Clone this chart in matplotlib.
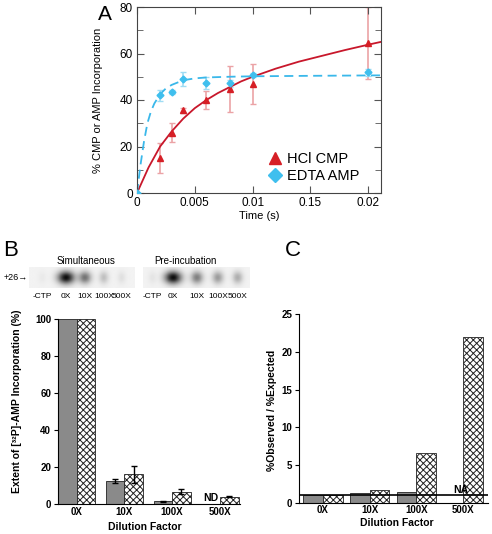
import numpy as np
import matplotlib
matplotlib.use("Agg")
import matplotlib.pyplot as plt
from matplotlib.lines import Line2D

plt.rcParams["font.family"] = ["Liberation Sans", "DejaVu Sans"]
plt.rcParams["hatch.linewidth"] = 0.7

W, H = 492, 534

# ---- panel A data ----
t_hcl = [0, 0.002, 0.003, 0.004, 0.006, 0.008, 0.01, 0.02]
hcl_cmp = [0, 15, 26, 35.5, 40, 44.7, 46.9, 64.5]
hcl_err = [0, 6.5, 4, 1, 4, 10, 8.6, 15.5]

t_edta = [0, 0.002, 0.003, 0.004, 0.006, 0.008, 0.01, 0.02]
edta_amp = [0, 42, 43.5, 49, 47.3, 47.3, 50.7, 52]
edta_err = [0, 2.5, 1, 3, 2.5, 1.5, 1, 1.5]

# fitted curves
fit_t_red = [0, 0.001, 0.002, 0.003, 0.004, 0.005, 0.006, 0.007, 0.008, 0.009,
             0.01, 0.012, 0.014, 0.016, 0.018, 0.02, 0.0211]
fit_red = [0, 11, 20, 26.5, 32, 36.5, 40, 43, 45.5, 48, 50, 53.5, 56.5, 59,
           61.5, 63.8, 65]
fit_t_blue = [0, 0.0003, 0.0006, 0.0009, 0.0012, 0.0015, 0.002, 0.0025, 0.003,
              0.004, 0.005, 0.006, 0.008, 0.01, 0.015, 0.0211]
fit_blue = [0, 12, 22, 30, 35, 38.5, 42.5, 45, 46.5, 48.5, 49.3, 49.7, 50,
            50.2, 50.4, 50.6]

x_ticks_a = [0, 0.005, 0.01, 0.015, 0.02]
x_tick_labels_a = ["0", "0.005", "0.01", "0.15", "0.02"]

# ---- panel B / C data ----
dilution = ["0X", "10X", "100X", "500X"]
b_simult = [100, 12.4, 1.5, 0]
b_simult_err = [0, 1.3, 0.3, 0]
b_preinc = [100, 16.0, 6.7, 4.0]
b_preinc_err = [0, 4.4, 1.3, 0.4]

c_simult = [1.0, 1.33, 1.46, 0]
c_preinc = [1.0, 1.68, 6.67, 21.9]

gel_lanes = ["-CTP", "0X", "10X", "100X", "500X"]
gel_simult = [0.04, 1.0, 0.55, 0.22, 0.08]
gel_preinc = [0.06, 1.0, 0.5, 0.38, 0.3]


def frac(x, y):
    return x / W, 1 - y / H


def axes_px(left, top, right, bottom):
    return [left / W, 1 - bottom / H, (right - left) / W, (bottom - top) / H]


fig = plt.figure(figsize=(W / 100, H / 100), dpi=100)

# ---------------- panel A ----------------
red = "#d61f26"
blue = "#3fbfee"
ax = fig.add_axes(axes_px(137, 7, 381, 193))
ax.plot(fit_t_red, fit_red, color="#c8172b", lw=1.3, zorder=2)
ax.plot(fit_t_blue, fit_blue, color="#3ab8ea", lw=1.3, dashes=(5, 3), zorder=2)
ax.errorbar(t_hcl, hcl_cmp, yerr=hcl_err, fmt="none", ecolor="#eba3a6",
            elinewidth=1.2, capsize=2.5, zorder=1)
ax.errorbar(t_edta, edta_amp, yerr=edta_err, fmt="none", ecolor="#9fdcf4",
            elinewidth=1.2, capsize=2.5, zorder=1)
ax.plot(t_hcl, hcl_cmp, "^", color=red, ms=4.5, mec=red, zorder=3)
ax.plot(t_edta, edta_amp, "D", color=blue, ms=3.5, mec=blue, zorder=3)
ax.set_xlim(0, 0.0211)
ax.set_ylim(0, 80)
ax.set_xticks(x_ticks_a)
ax.set_xticklabels(x_tick_labels_a)
ax.set_yticks([0, 20, 40, 60, 80])
ax.set_yticks([10, 30, 50, 70], minor=True)
ax.tick_params(which="both", direction="in", top=True, right=True,
               labelsize=8.5, color="#555555", pad=3)
ax.tick_params(which="major", length=5)
ax.tick_params(which="minor", length=4)
for sp in ax.spines.values():
    sp.set_linewidth(0.8)
    sp.set_color("#444444")
ax.set_ylabel("% CMP or AMP Incorporation", fontsize=8)
ax.yaxis.set_label_coords(-0.139, 0.5)
ax.set_xlabel("Time (s)", fontsize=8, labelpad=1)
handles = [Line2D([], [], ls="none", marker="^", color=red, ms=9),
           Line2D([], [], ls="none", marker="D", color=blue, ms=7)]
ax.legend(handles, ["HCl CMP", "EDTA AMP"], loc="lower right",
          bbox_to_anchor=(0.935, 0.02), frameon=False, fontsize=10.5,
          handlelength=0.8, handletextpad=0.4, labelspacing=0.25,
          borderaxespad=0)
fig.text(*frac(105, 15), "A", fontsize=15, ha="center", va="center")

# ---------------- gel strips ----------------
def gel_image(intensities, centers, nx=120, ny=24):
    xx, yy = np.meshgrid(np.linspace(0, 1, nx), np.linspace(0, 1, ny))
    img = np.full((ny, nx), 0.95)
    for val, cx in zip(intensities, centers):
        sx = 0.025 + 0.03 * val
        img -= 0.9 * val * np.exp(-((xx - cx) ** 2 / (2 * sx ** 2)
                                    + (yy - 0.5) ** 2 / (2 * 0.22 ** 2)))
    return np.clip(img, 0, 1)


strips = [
    ((29, 267, 135, 288), gel_simult, [42, 66, 85, 104, 122], "Simultaneous", 86),
    ((143, 267, 250, 288), gel_preinc, [152, 173, 197, 218, 238], "Pre-incubation", 185),
]
for (l, t, r, b), vals, lane_px, title, title_x in strips:
    gax = fig.add_axes(axes_px(l, t, r, b))
    centers = [(p - l) / (r - l) for p in lane_px]
    gax.imshow(gel_image(vals, centers), cmap="gray", vmin=0, vmax=1,
               aspect="auto", extent=(0, 1, 1, 0), interpolation="bilinear")
    gax.axis("off")
    fig.text(*frac(title_x, 261), title, fontsize=7, ha="center", va="center")
    for lane, p in zip(gel_lanes, lane_px):
        fig.text(*frac(p, 296), lane, fontsize=6, ha="center", va="center")
fig.text(*frac(16, 278), "+26\u2192", fontsize=6.5, ha="center", va="center")
fig.text(*frac(11, 250), "B", fontsize=16, ha="center", va="center")
fig.text(*frac(293, 250), "C", fontsize=16, ha="center", va="center")

# ---------------- panel B bars ----------------
bw_b = 0.39
xb = np.arange(len(dilution))
axb = fig.add_axes(axes_px(58, 319, 240, 504))
axb.bar(xb - bw_b / 2, b_simult, bw_b, color="#8a8a8a", edgecolor="#222222",
        lw=0.6)
axb.bar(xb + bw_b / 2, b_preinc, bw_b, color="white", edgecolor="#222222",
        hatch="xxxxx", lw=0.6)
errx_s = [x - bw_b / 2 for x, e in zip(xb, b_simult_err) if e > 0]
erry_s = [v for v, e in zip(b_simult, b_simult_err) if e > 0]
erre_s = [e for e in b_simult_err if e > 0]
axb.errorbar(errx_s, erry_s, yerr=erre_s, fmt="none", ecolor="black",
             elinewidth=1, capsize=2)
errx_p = [x + bw_b / 2 for x, e in zip(xb, b_preinc_err) if e > 0]
erry_p = [v for v, e in zip(b_preinc, b_preinc_err) if e > 0]
erre_p = [e for e in b_preinc_err if e > 0]
axb.errorbar(errx_p, erry_p, yerr=erre_p, fmt="none", ecolor="black",
             elinewidth=1, capsize=2)
axb.text(xb[3] - bw_b / 2, 0.5, "ND", fontsize=7.5, fontweight="bold",
         ha="center", va="bottom")
axb.set_xlim(-bw_b, 3.42)
axb.set_ylim(0, 100)
axb.set_xticks(xb)
axb.set_xticklabels(dilution)
axb.set_yticks([0, 20, 40, 60, 80, 100])
axb.spines[["top", "right"]].set_visible(False)
axb.tick_params(axis="y", length=3, width=0.8, labelsize=7, pad=2)
axb.tick_params(axis="x", length=0, labelsize=7, pad=2.5)
for lab in axb.get_xticklabels() + axb.get_yticklabels():
    lab.set_fontweight("bold")
axb.set_ylabel("Extent of [\u00b3\u00b2P]-AMP Incorporation (%)", fontsize=7.5,
               fontweight="bold")
axb.yaxis.set_label_coords(-0.198, 0.557)
axb.set_xlabel("Dilution Factor", fontsize=7.5, fontweight="bold")
axb.xaxis.set_label_coords(0.478, -0.095)

# ---------------- panel C bars ----------------
bw_c = 0.42
xc = np.arange(len(dilution))
axc = fig.add_axes(axes_px(299, 314, 488, 503))
axc.bar(xc - bw_c / 2, c_simult, bw_c, color="#8a8a8a", edgecolor="#222222",
        lw=0.6)
axc.bar(xc + bw_c / 2, c_preinc, bw_c, color="white", edgecolor="#222222",
        hatch="xxxxx", lw=0.6)
axc.axhline(1, color="black", lw=1.2)
axc.text(xc[3] - bw_c / 2 + 0.15, 1.0, "NA", fontsize=7.5, fontweight="bold",
         ha="center", va="bottom")
axc.set_xlim(-0.51, 3.53)
axc.set_ylim(0, 25)
axc.set_xticks(xc)
axc.set_xticklabels(dilution)
axc.set_yticks([0, 5, 10, 15, 20, 25])
axc.spines[["top", "right"]].set_visible(False)
axc.tick_params(axis="y", length=3, width=0.8, labelsize=7, pad=2)
axc.tick_params(axis="x", length=0, labelsize=7, pad=1.5)
for lab in axc.get_xticklabels() + axc.get_yticklabels():
    lab.set_fontweight("bold")
axc.set_ylabel("%Observed / %Expected", fontsize=7.5, fontweight="bold")
axc.yaxis.set_label_coords(-0.116, 0.49)
axc.set_xlabel("Dilution Factor", fontsize=7.5, fontweight="bold")
axc.xaxis.set_label_coords(0.52, -0.078)

fig.savefig("out.png", dpi=100)
